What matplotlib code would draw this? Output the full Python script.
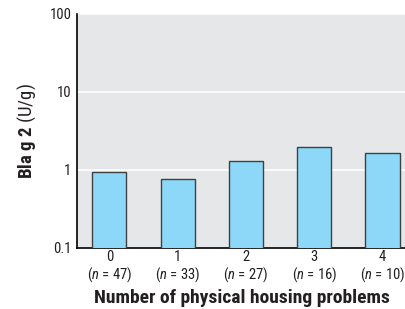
import matplotlib
matplotlib.use("Agg")
import matplotlib.pyplot as plt
import numpy as np

problems = ["0", "1", "2", "3", "4"]
n_counts = [47, 33, 27, 16, 10]
bla_g2 = [0.93, 0.76, 1.30, 1.96, 1.65]

font = "Roboto Condensed"
plt.rcParams["font.family"] = [font, "Roboto", "DejaVu Sans"]
plt.rcParams["mathtext.fontset"] = "custom"
plt.rcParams["mathtext.rm"] = font
plt.rcParams["mathtext.it"] = font + ":italic"
plt.rcParams["mathtext.bf"] = font + ":bold"

fig = plt.figure(figsize=(4.06, 3.09), dpi=100)
ax = fig.add_axes([0.1897, 0.199, 0.8103, 0.7557])
ax.set_facecolor("#e6e7e8")

x = np.arange(len(problems))
ax.bar(x, bla_g2, width=0.5, color="#8dd8f8", edgecolor="#404040", linewidth=1.0, zorder=3)

ax.set_yscale("log")
ax.set_ylim(0.1, 100)
ax.set_xlim(-0.473, 4.344)
ax.set_yticks([0.1, 1, 10, 100])
ax.set_yticklabels(["0.1", "1", "10", "100"])
ax.minorticks_off()
ax.yaxis.grid(True, color="white", linewidth=1.2, zorder=0)
ax.set_axisbelow(True)

ax.set_xticks(x)
ax.set_xticklabels([f"{p}\n($\\it{{n}}$ = {n})" for p, n in zip(problems, n_counts)],
                   linespacing=1.05)
ax.tick_params(axis="both", length=0, labelsize=10.5, colors="#231f20")
ax.tick_params(axis="x", pad=2)
ax.tick_params(axis="y", pad=4)

for s in ["top", "right"]:
    ax.spines[s].set_visible(False)
for s in ["left", "bottom"]:
    ax.spines[s].set_color("black")
    ax.spines[s].set_linewidth(1.2)

ax.set_xlabel("Number of physical housing problems", fontsize=14, fontweight="bold",
              color="#231f20", labelpad=4)
ax.set_ylabel("$\\mathbf{Bla\\ g\\ 2}$ (U/g)", fontsize=13.5, color="#231f20", labelpad=8)

fig.savefig("out.png", dpi=100)
